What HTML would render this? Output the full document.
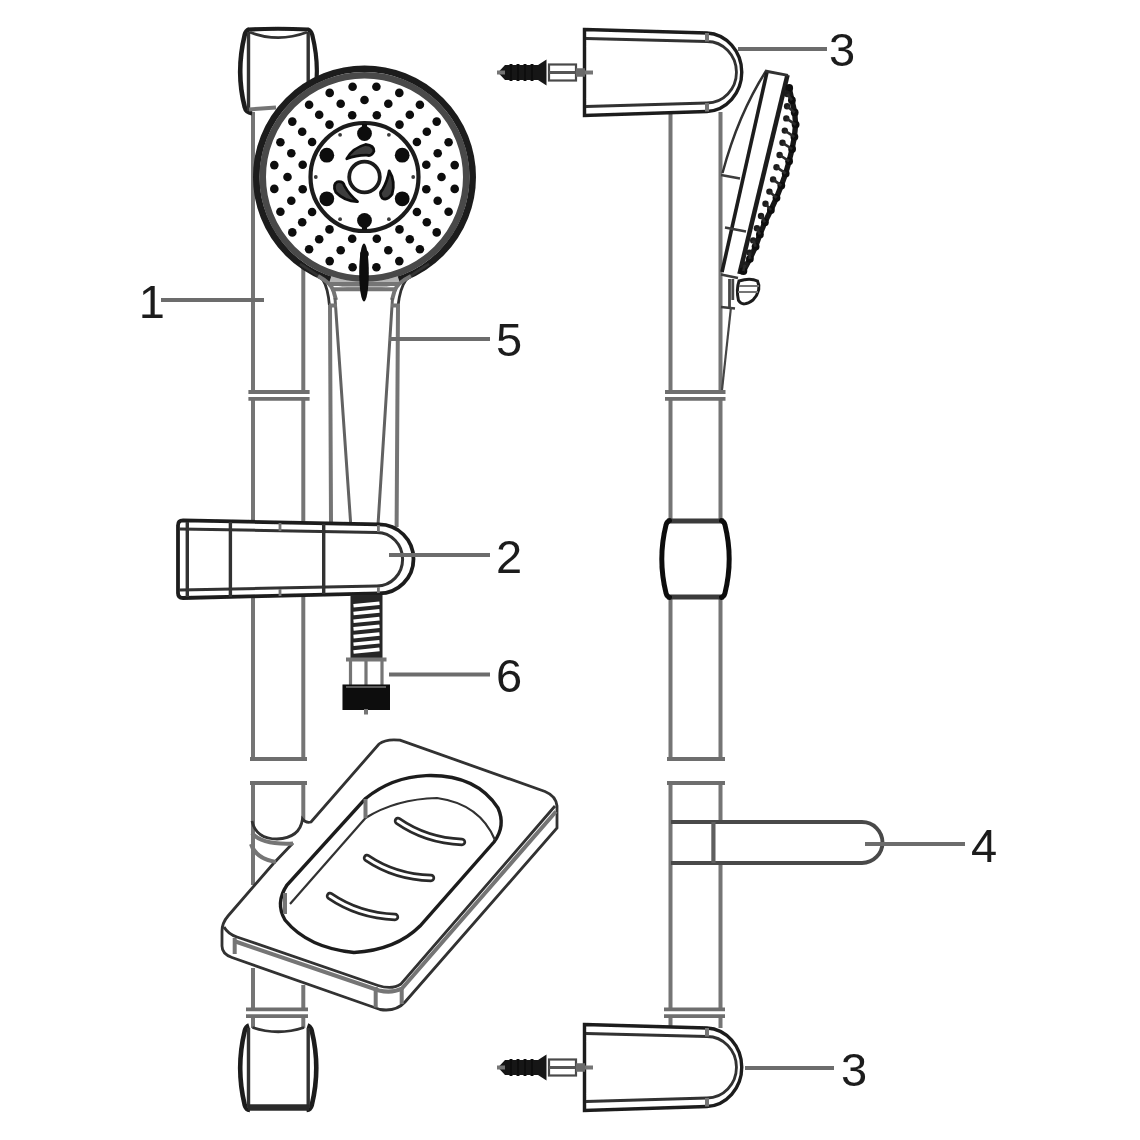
<!DOCTYPE html>
<html lang="en"><head><meta charset="utf-8"><title>Shower rail set - parts diagram</title>
<style>
html,body{margin:0;padding:0;background:#fff}
body{width:1140px;height:1140px;overflow:hidden}
svg{display:block}
.g{fill:none;stroke:#757575;stroke-width:4}
.d{fill:none;stroke:#1c1c1c;stroke-width:3.4}
.d2{fill:none;stroke:#303030;stroke-width:2.8}
.l{fill:none;stroke:#6c6c6c;stroke-width:3.9}
text{font-family:"Liberation Sans",Arial,sans-serif;font-size:47px;fill:#1a1a1a}
</style></head><body>
<svg width="1140" height="1140" viewBox="0 0 1140 1140">
<defs><filter id="soft" x="0" y="0" width="1140" height="1140" filterUnits="userSpaceOnUse"><feGaussianBlur stdDeviation="0.7"/></filter></defs>
<rect width="1140" height="1140" fill="#fff"/>
<g filter="url(#soft)">
<g id="left-rail">
<path class="g" d="M253 112V392 M253 399V520 M253 598V759 M253 783V885 M253 968V1009 M253 1016V1028"/>
<path class="g" d="M303.3 268V392 M303.3 399V521 M303.3 596V759 M303.3 783V820 M303.3 985V1009 M303.3 1016V1028"/>
<path class="g" style="stroke-width:3.8;stroke:#6e6e6e" d="M248.4 392H309.6 M248.4 398.8H309.6 M250 759H307 M250 783H307 M246 1009.3H308 M246 1016.2H308"/>
</g>
<g id="top-cap">
<path class="d" style="stroke-width:4.2" d="M248 29.5 Q278 28 308 29.5 Q311 30.5 312.3 35 Q320.8 70 313.5 99"/>
<path class="d" style="stroke-width:4.6" d="M249 29.5 Q246 30.5 244.7 35 Q235.7 72 244.7 107 Q246 112.5 252 113.2"/>
<path class="d2" style="stroke-width:3.4" d="M248.5 32 V111 M308.2 32 V101"/>
<path class="d2" d="M250 32.3 Q278 43 307 32.3"/>
<path class="g" d="M249 109.5 L276 107.5"/>
</g>
<g id="bottom-cap">
<path class="d" style="stroke-width:4.6" d="M249 1025.5 Q246 1026.5 244.7 1031 Q235.7 1068 244.7 1105 Q246 1109.5 250 1110"/>
<path class="d" style="stroke-width:4.6" d="M307.5 1025.5 Q310.5 1026.5 311.8 1031 Q320.8 1068 311.8 1105 Q310.5 1109.5 306.5 1110"/>
<path class="d2" style="stroke-width:3.4" d="M248.5 1028 V1108 M308.2 1028 V1108"/>
<path class="d2" d="M252.5 1027.5 Q278 1036 304 1027.5"/>
<path d="M248 1107.5 H309" stroke="#2c2c2c" stroke-width="6.5" fill="none"/>
</g>
<g id="head">
<circle cx="364.5" cy="177" r="108.2" fill="#fff" stroke="#1c1c1c" stroke-width="6.6"/>
<circle cx="364.5" cy="177" r="101.8" fill="none" stroke="#484848" stroke-width="6.6"/>
<circle cx="364.5" cy="177" r="54" class="d" style="stroke-width:4.2"/>
<circle cx="364.5" cy="177" r="15.3" class="d" style="stroke-width:3.8"/>
<circle cx="376.8" cy="115.2" r="4.3" fill="#0d0d0d"/>
<circle cx="399.5" cy="124.6" r="4.3" fill="#0d0d0d"/>
<circle cx="416.9" cy="142.0" r="4.3" fill="#0d0d0d"/>
<circle cx="426.3" cy="164.7" r="4.3" fill="#0d0d0d"/>
<circle cx="426.3" cy="189.3" r="4.3" fill="#0d0d0d"/>
<circle cx="416.9" cy="212.0" r="4.3" fill="#0d0d0d"/>
<circle cx="399.5" cy="229.4" r="4.3" fill="#0d0d0d"/>
<circle cx="376.8" cy="238.8" r="4.3" fill="#0d0d0d"/>
<circle cx="352.2" cy="238.8" r="4.3" fill="#0d0d0d"/>
<circle cx="329.5" cy="229.4" r="4.3" fill="#0d0d0d"/>
<circle cx="312.1" cy="212.0" r="4.3" fill="#0d0d0d"/>
<circle cx="302.7" cy="189.3" r="4.3" fill="#0d0d0d"/>
<circle cx="302.7" cy="164.7" r="4.3" fill="#0d0d0d"/>
<circle cx="312.1" cy="142.0" r="4.3" fill="#0d0d0d"/>
<circle cx="329.5" cy="124.6" r="4.3" fill="#0d0d0d"/>
<circle cx="352.2" cy="115.2" r="4.3" fill="#0d0d0d"/>
<circle cx="364.5" cy="100.0" r="4.3" fill="#0d0d0d"/>
<circle cx="388.3" cy="103.8" r="4.3" fill="#0d0d0d"/>
<circle cx="409.8" cy="114.7" r="4.3" fill="#0d0d0d"/>
<circle cx="426.8" cy="131.7" r="4.3" fill="#0d0d0d"/>
<circle cx="437.7" cy="153.2" r="4.3" fill="#0d0d0d"/>
<circle cx="441.5" cy="177.0" r="4.3" fill="#0d0d0d"/>
<circle cx="437.7" cy="200.8" r="4.3" fill="#0d0d0d"/>
<circle cx="426.8" cy="222.3" r="4.3" fill="#0d0d0d"/>
<circle cx="409.8" cy="239.3" r="4.3" fill="#0d0d0d"/>
<circle cx="388.3" cy="250.2" r="4.3" fill="#0d0d0d"/>
<circle cx="364.5" cy="254.0" r="4.3" fill="#0d0d0d"/>
<circle cx="340.7" cy="250.2" r="4.3" fill="#0d0d0d"/>
<circle cx="319.2" cy="239.3" r="4.3" fill="#0d0d0d"/>
<circle cx="302.2" cy="222.3" r="4.3" fill="#0d0d0d"/>
<circle cx="291.3" cy="200.8" r="4.3" fill="#0d0d0d"/>
<circle cx="287.5" cy="177.0" r="4.3" fill="#0d0d0d"/>
<circle cx="291.3" cy="153.2" r="4.3" fill="#0d0d0d"/>
<circle cx="302.2" cy="131.7" r="4.3" fill="#0d0d0d"/>
<circle cx="319.2" cy="114.7" r="4.3" fill="#0d0d0d"/>
<circle cx="340.7" cy="103.8" r="4.3" fill="#0d0d0d"/>
<circle cx="376.4" cy="86.8" r="4.3" fill="#0d0d0d"/>
<circle cx="399.3" cy="92.9" r="4.3" fill="#0d0d0d"/>
<circle cx="419.9" cy="104.8" r="4.3" fill="#0d0d0d"/>
<circle cx="436.7" cy="121.6" r="4.3" fill="#0d0d0d"/>
<circle cx="448.6" cy="142.2" r="4.3" fill="#0d0d0d"/>
<circle cx="454.7" cy="165.1" r="4.3" fill="#0d0d0d"/>
<circle cx="454.7" cy="188.9" r="4.3" fill="#0d0d0d"/>
<circle cx="448.6" cy="211.8" r="4.3" fill="#0d0d0d"/>
<circle cx="436.7" cy="232.4" r="4.3" fill="#0d0d0d"/>
<circle cx="419.9" cy="249.2" r="4.3" fill="#0d0d0d"/>
<circle cx="399.3" cy="261.1" r="4.3" fill="#0d0d0d"/>
<circle cx="376.4" cy="267.2" r="4.3" fill="#0d0d0d"/>
<circle cx="352.6" cy="267.2" r="4.3" fill="#0d0d0d"/>
<circle cx="329.7" cy="261.1" r="4.3" fill="#0d0d0d"/>
<circle cx="309.1" cy="249.2" r="4.3" fill="#0d0d0d"/>
<circle cx="292.3" cy="232.4" r="4.3" fill="#0d0d0d"/>
<circle cx="280.4" cy="211.8" r="4.3" fill="#0d0d0d"/>
<circle cx="274.3" cy="188.9" r="4.3" fill="#0d0d0d"/>
<circle cx="274.3" cy="165.1" r="4.3" fill="#0d0d0d"/>
<circle cx="280.4" cy="142.2" r="4.3" fill="#0d0d0d"/>
<circle cx="292.3" cy="121.6" r="4.3" fill="#0d0d0d"/>
<circle cx="309.1" cy="104.8" r="4.3" fill="#0d0d0d"/>
<circle cx="329.7" cy="92.9" r="4.3" fill="#0d0d0d"/>
<circle cx="352.6" cy="86.8" r="4.3" fill="#0d0d0d"/>
<circle cx="364.5" cy="133.5" r="7.4" fill="#0d0d0d"/>
<circle cx="402.2" cy="155.2" r="7.4" fill="#0d0d0d"/>
<circle cx="402.2" cy="198.8" r="7.4" fill="#0d0d0d"/>
<circle cx="364.5" cy="220.5" r="7.4" fill="#0d0d0d"/>
<circle cx="326.8" cy="198.8" r="7.4" fill="#0d0d0d"/>
<circle cx="326.8" cy="155.2" r="7.4" fill="#0d0d0d"/>
<path d="M364.5 124V133 M364.5 230V221" stroke="#111" stroke-width="5"/>
<circle cx="388.9" cy="134.8" r="1.9" fill="#3a3a3a"/>
<circle cx="413.2" cy="177.0" r="1.9" fill="#3a3a3a"/>
<circle cx="388.9" cy="219.2" r="1.9" fill="#3a3a3a"/>
<circle cx="340.1" cy="219.2" r="1.9" fill="#3a3a3a"/>
<circle cx="315.8" cy="177.0" r="1.9" fill="#3a3a3a"/>
<circle cx="340.1" cy="134.8" r="1.9" fill="#3a3a3a"/>
<path d="M346.8 158.7 Q352.7 147.8 365.6 144.5 Q374.1 145.4 373.9 151.2 Q371.5 156.7 366.8 155.1 Q356.5 154.9 346.8 158.7Z" fill="#3e3e3e" stroke="#101010" stroke-width="2.8" stroke-linejoin="round"/>
<path d="M389.2 170.8 Q395.7 181.4 392.1 194.2 Q387.0 201.1 382.2 198.1 Q378.6 193.2 382.3 189.9 Q387.6 181.1 389.2 170.8Z" fill="#3e3e3e" stroke="#101010" stroke-width="2.8" stroke-linejoin="round"/>
<path d="M357.5 201.5 Q345.1 201.8 335.8 192.3 Q332.3 184.4 337.4 181.8 Q343.4 181.1 344.4 185.9 Q349.4 195.0 357.5 201.5Z" fill="#3e3e3e" stroke="#101010" stroke-width="2.8" stroke-linejoin="round"/>
</g>
<g id="handle">
<path d="M330.1 279.8 A108.4 108.4 0 0 0 398.9 279.8" fill="none" stroke="#b4b4b4" stroke-width="7.4"/>
<path class="d2" d="M300 264 Q318 275 323 280 Q328 288 329.5 306"/>
<path class="d2" d="M429 264 Q411 275 406 280 Q400 288 398 306"/>
<path class="g" d="M318 276 Q331 283 333.5 291 L336 300"/>
<path class="g" d="M411 276 Q397 283 394.5 291 L392 300"/>
<path class="g" d="M328 284 H400 M331 289.3 H397"/>
<path class="g" d="M330 305 L331 523 M398 305 L396.6 527"/>
<path class="g" style="stroke-width:3;stroke:#626262" d="M335 298 L350.7 524 M392.5 298 L378 525"/>
<path class="g" d="M329 305.5 H337 M391 305.5 H399"/>
<ellipse cx="364" cy="272.5" rx="4.8" ry="29" fill="#0a0a0a"/>
</g>
<g id="slider">
<path class="d" fill="#fff" style="stroke-width:3.8" d="M183 520.4 L379 524.4 A34.5 34.5 0 0 1 379 593.4 L183 598 Q178 598 178 593 V525.4 Q178 520.4 183 520.4Z"/>
<path class="d2" style="stroke-width:3" d="M180 529 L377 532.4 A25.6 26.8 0 0 1 377 586 L180 590"/>
<path class="d2" style="stroke-width:3.4" d="M187.3 522 V597 M230.4 522 V597 M323.7 524 V594"/>
<path class="g" style="stroke-width:2.8" d="M280 523 V531 M280 589 V596 M378.4 525 V532 M378.4 587 V593"/>
</g>
<g id="hose">
<rect x="350.5" y="595" width="32" height="63" fill="#262626"/>
<path d="M353.5 605.8 L379.5 603.2 M353.5 613.5 L379.5 610.9 M353.5 621.2 L379.5 618.6 M353.5 628.9 L379.5 626.3 M353.5 636.6 L379.5 634.0 M353.5 644.3 L379.5 641.7 M353.5 652.0 L379.5 649.4 " stroke="#fff" stroke-width="3.6" fill="none"/>
<path class="g" d="M346 659.5 H386.5"/>
<path class="g" style="stroke-width:3.2" d="M350.5 661 V686 M366 661 V686 M382 661 V686"/>
<rect x="342.5" y="684.5" width="47.5" height="25.5" fill="#0a0a0a"/>
<path d="M346 687 H386" stroke="#777" stroke-width="1.4"/>
<path class="g" d="M366 709 V714.5"/>
</g>
<g id="dish">
<path class="d2" d="M252 821 Q256 839 277 839 Q300 838 302.5 819 Q306 823.5 311 822 L379 744 Q386 738.5 400 740.2 L545 791.5 Q556 796 557 806 V828 L405 1002 Q396 1012 380 1009.5 L232 957.5 Q222 954 222 946 V931 Q222 923 228 916 L273 864 L293 843"/>
<path class="d2" d="M224 927 Q228 934 237 937 L378 985.5 Q392 990 401 984 L555 806"/>
<path class="g" d="M234 941 L379 990.5 Q392 993.5 402 988.5 L556 811.5"/>
<path class="g" d="M252 833 Q262 845 293 843.5"/>
<path class="g" d="M251 844 Q256 859 276 862"/>
<path class="g" d="M234.7 938 V954 M375.7 987 V1007.5 M401.7 988 V1004"/>
<path class="d" d="M365.5 798.5 Q392 777 426 775.6 Q476 774 498 808 Q506 826 494 842 L420 926 Q396 950 354 952.5 Q308 948 285 920 Q275 903 287 885 Z"/>
<path class="d2" style="stroke-width:2.2" d="M365.5 818 Q396 799 437 798 Q480 804 495 840"/>
<path class="d2" style="stroke-width:2.2" d="M365.5 818 L290 904"/>
<path class="g" d="M365.5 799 V818 M285 893 V914"/>
<path d="M398 821 Q426.0 840.5 462 842" fill="none" stroke="#2a2a2a" stroke-width="8.4" stroke-linecap="round"/>
<path d="M398 821 Q426.0 840.5 462 842" fill="none" stroke="#fff" stroke-width="3" stroke-linecap="round"/>
<path d="M367 858 Q395.0 877.0 431 878" fill="none" stroke="#2a2a2a" stroke-width="8.4" stroke-linecap="round"/>
<path d="M367 858 Q395.0 877.0 431 878" fill="none" stroke="#fff" stroke-width="3" stroke-linecap="round"/>
<path d="M330 896 Q358.5 915.5 395 917" fill="none" stroke="#2a2a2a" stroke-width="8.4" stroke-linecap="round"/>
<path d="M330 896 Q358.5 915.5 395 917" fill="none" stroke="#fff" stroke-width="3" stroke-linecap="round"/>
</g>
<g id="right-rail">
<path class="g" d="M670.5 114V392 M670.5 399V520 M670.5 598V759 M670.5 783V1009 M670.5 1016V1026"/>
<path class="g" d="M720.5 112V392 M720.5 399V520 M720.5 598V759 M720.5 783V822 M720.5 863V1009 M720.5 1016V1028"/>
<path class="g" style="stroke-width:3.8;stroke:#6e6e6e" d="M665 392H725.5 M665 398.8H725.5 M667 759H725 M667 783H725 M664 1009.3H725 M664 1016.2H725"/>
</g>
<g id="brackets">
<path class="d" fill="#fff" d="M584.5 29.5 L707 33.0 A36.6 39.3 0 0 1 707 111.5 L584.5 115.5 Z"/>
<path class="d2" d="M586 38.5 L707 41.5 A29.4 30.7 0 0 1 707 103.0 L586 106.5"/>
<path class="g" d="M707 33.0 V41.5 M707 103.0 V111.5"/>
<path d="M498 72.5 L505 65.0 H538 L546.5 59.5 V85.5 L538 80.0 H505 Z" fill="#161616"/>
<path d="M511 64.0V81.0 M518 64.0V81.0 M525 64.0V81.0 M532 64.0V81.0" stroke="#111" stroke-width="3"/>
<path d="M497 72.5 H505" class="g"/>
<rect x="549" y="64.5" width="27" height="16" fill="#fff" stroke="#4a4a4a" stroke-width="2.2"/>
<path d="M549 72.5 H576" stroke="#555" stroke-width="3"/>
<path d="M576 72.5 H585" stroke="#6a6a6a" stroke-width="8.5"/>
<path d="M585 72.5 H593" class="g"/>
<path class="d" fill="#fff" d="M584.5 1024.5 L707 1028.0 A36.6 39.3 0 0 1 707 1106.5 L584.5 1110.5 Z"/>
<path class="d2" d="M586 1033.5 L707 1036.5 A29.4 30.7 0 0 1 707 1098.0 L586 1101.5"/>
<path class="g" d="M707 1028.0 V1036.5 M707 1098.0 V1106.5"/>
<path d="M498 1067.5 L505 1060.0 H538 L546.5 1054.5 V1080.5 L538 1075.0 H505 Z" fill="#161616"/>
<path d="M511 1059.0V1076.0 M518 1059.0V1076.0 M525 1059.0V1076.0 M532 1059.0V1076.0" stroke="#111" stroke-width="3"/>
<path d="M497 1067.5 H505" class="g"/>
<rect x="549" y="1059.5" width="27" height="16" fill="#fff" stroke="#4a4a4a" stroke-width="2.2"/>
<path d="M549 1067.5 H576" stroke="#555" stroke-width="3"/>
<path d="M576 1067.5 H585" stroke="#6a6a6a" stroke-width="8.5"/>
<path d="M585 1067.5 H593" class="g"/>
</g>
<g id="slider-r">
<path fill="#fff" stroke="none" d="M668 521 H723 Q734 559 723 597 H668 Q657 559 668 521Z"/>
<path fill="none" stroke="#3a3a3a" stroke-width="4.8" d="M667 521 H724 M667 597 H724"/>
<path fill="none" stroke="#0e0e0e" stroke-width="5" stroke-linecap="round" d="M669.5 520.6 Q666.8 521.5 666 525 Q657.6 559 666 593 Q666.8 596.5 669.5 597.4 M721.5 520.6 Q724.2 521.5 725 525 Q733.4 559 725 593 Q724.2 596.5 721.5 597.4"/>
</g>
<g id="shelf">
<path fill="none" stroke="#4a4a4a" stroke-width="3.9" d="M671 822 H862 A20.5 20.5 0 0 1 862 863 H671"/>
<path fill="none" stroke="#5e5e5e" stroke-width="4.2" d="M713.4 822 V863"/>
</g>
<g id="head-side">
<path class="d2" style="stroke-width:2.4" d="M766 71 Q738 115 722.5 173"/>
<path class="d" style="stroke-width:3.6" d="M767 72 L722 272"/>
<path class="d" style="stroke-width:4.6" d="M787.5 75 L739.5 274"/>
<path class="d2" d="M765 71 L788 75.3"/>
<path d="M789.2 88.0 L791.9 100.2 L794.7 112.4 L795.6 124.6 L794.4 136.8 L792.1 149.0 L789.1 161.2 L785.7 173.4 L781.3 185.6 L776.5 197.8 L770.9 210.0 L764.9 222.2 L759.9 234.4 L755.6 246.6 L749.9 258.8 L743.4 271.0" fill="none" stroke="#161616" stroke-width="5.4" stroke-linejoin="round" stroke-linecap="round"/>
<circle cx="789.2" cy="88.0" r="3.9" fill="#101010"/>
<circle cx="791.9" cy="100.2" r="3.9" fill="#101010"/>
<circle cx="794.7" cy="112.4" r="3.9" fill="#101010"/>
<circle cx="795.6" cy="124.6" r="3.9" fill="#101010"/>
<circle cx="794.4" cy="136.8" r="3.9" fill="#101010"/>
<circle cx="792.1" cy="149.0" r="3.9" fill="#101010"/>
<circle cx="789.1" cy="161.2" r="3.9" fill="#101010"/>
<circle cx="785.7" cy="173.4" r="3.9" fill="#101010"/>
<circle cx="781.3" cy="185.6" r="3.9" fill="#101010"/>
<circle cx="776.5" cy="197.8" r="3.9" fill="#101010"/>
<circle cx="770.9" cy="210.0" r="3.9" fill="#101010"/>
<circle cx="764.9" cy="222.2" r="3.9" fill="#101010"/>
<circle cx="759.9" cy="234.4" r="3.9" fill="#101010"/>
<circle cx="755.6" cy="246.6" r="3.9" fill="#101010"/>
<circle cx="749.9" cy="258.8" r="3.9" fill="#101010"/>
<circle cx="743.4" cy="271.0" r="3.9" fill="#101010"/>
<circle cx="787.3" cy="94.0" r="3.2" fill="#1e1e1e"/>
<path d="M787.3 94.0 L791.9 100.2" stroke="#2a2a2a" stroke-width="2.6" fill="none"/>
<circle cx="787.1" cy="106.2" r="3.2" fill="#1e1e1e"/>
<path d="M787.1 106.2 L794.7 112.4" stroke="#2a2a2a" stroke-width="2.6" fill="none"/>
<circle cx="786.3" cy="118.4" r="3.2" fill="#1e1e1e"/>
<path d="M786.3 118.4 L795.6 124.6" stroke="#2a2a2a" stroke-width="2.6" fill="none"/>
<circle cx="784.8" cy="130.6" r="3.2" fill="#1e1e1e"/>
<path d="M784.8 130.6 L794.4 136.8" stroke="#2a2a2a" stroke-width="2.6" fill="none"/>
<circle cx="782.5" cy="142.8" r="3.2" fill="#1e1e1e"/>
<path d="M782.5 142.8 L792.1 149.0" stroke="#2a2a2a" stroke-width="2.6" fill="none"/>
<circle cx="779.6" cy="155.0" r="3.2" fill="#1e1e1e"/>
<path d="M779.6 155.0 L789.1 161.2" stroke="#2a2a2a" stroke-width="2.6" fill="none"/>
<circle cx="776.5" cy="167.2" r="3.2" fill="#1e1e1e"/>
<path d="M776.5 167.2 L785.7 173.4" stroke="#2a2a2a" stroke-width="2.6" fill="none"/>
<circle cx="773.1" cy="179.4" r="3.2" fill="#1e1e1e"/>
<path d="M773.1 179.4 L781.3 185.6" stroke="#2a2a2a" stroke-width="2.6" fill="none"/>
<circle cx="769.4" cy="191.6" r="3.2" fill="#1e1e1e"/>
<path d="M769.4 191.6 L776.5 197.8" stroke="#2a2a2a" stroke-width="2.6" fill="none"/>
<circle cx="765.5" cy="203.8" r="3.2" fill="#1e1e1e"/>
<path d="M765.5 203.8 L770.9 210.0" stroke="#2a2a2a" stroke-width="2.6" fill="none"/>
<circle cx="761.0" cy="216.0" r="3.2" fill="#1e1e1e"/>
<path d="M761.0 216.0 L764.9 222.2" stroke="#2a2a2a" stroke-width="2.6" fill="none"/>
<circle cx="756.9" cy="228.2" r="3.2" fill="#1e1e1e"/>
<path d="M756.9 228.2 L759.9 234.4" stroke="#2a2a2a" stroke-width="2.6" fill="none"/>
<circle cx="753.2" cy="240.4" r="3.2" fill="#1e1e1e"/>
<path d="M753.2 240.4 L755.6 246.6" stroke="#2a2a2a" stroke-width="2.6" fill="none"/>
<circle cx="749.4" cy="252.6" r="3.2" fill="#1e1e1e"/>
<path d="M749.4 252.6 L749.9 258.8" stroke="#2a2a2a" stroke-width="2.6" fill="none"/>
<circle cx="744.9" cy="264.8" r="3.2" fill="#1e1e1e"/>
<path d="M744.9 264.8 L743.4 271.0" stroke="#2a2a2a" stroke-width="2.6" fill="none"/>
<path class="d2" style="stroke-width:2.5;stroke:#3c3c3c" d="M721 175 L740 178.5 M725 227.5 L746 231.5 M721 274.5 L738 278 M721 307 L735 308.5"/>
<path class="d2" style="stroke:#444" d="M729.5 279 V307 M732.8 279 V300"/>
<path class="d" style="stroke-width:3" d="M739 281 Q750 277.5 757.5 281 Q762 290 753 300 Q743 307.5 738.5 300.5 Q736 290 739 281Z"/>
<path class="g" style="stroke-width:2" d="M739 286 H759 M738 292 H758"/>
<path class="d2" style="stroke-width:2.2;stroke:#444" d="M731 307 L722 390"/>
</g>
<g id="labels">
<path class="l" d="M161 300H264 M389 339H490 M389 555H490 M389 674.5H490 M738 49H827 M865 844H965 M745 1068H834"/>
<text x="138.8" y="317.5">1</text>
<text x="496" y="356">5</text>
<text x="496" y="573">2</text>
<text x="496" y="692">6</text>
<text x="829" y="65.5">3</text>
<text x="971" y="862">4</text>
<text x="841" y="1085.5">3</text>
</g>
</g>
</svg>
</body></html>
